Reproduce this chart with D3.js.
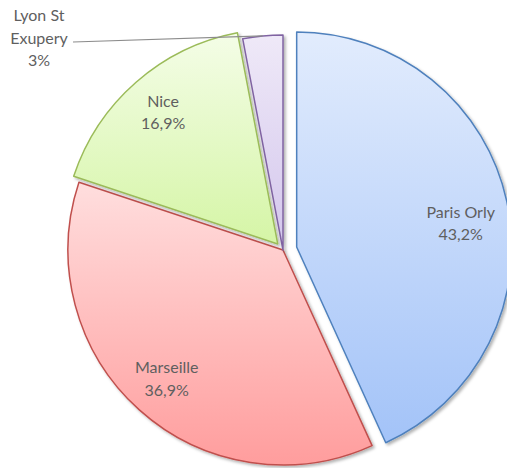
<!DOCTYPE html>
<head>
<meta charset="utf-8">
<script src="https://d3js.org/d3.v7.min.js"></script>
<style>
  html, body { margin: 0; padding: 0; background: #fff; }
  svg { display: block; }
  .lbl { font-family: Lato, "Open Sans", sans-serif; font-size: 16px; fill: #5f5f5f; }
</style>
</head>
<body>
<svg id="chart" width="507" height="468"></svg>
<script>
// data
var airports = ["Paris Orly", "Marseille", "Nice", "Lyon St Exupery"];
var shares = [43.2, 36.9, 16.9, 3.0];
var labelLines = [["Paris Orly", "43,2%"], ["Marseille", "36,9%"], ["Nice", "16,9%"], ["Lyon St", "Exupery", "3%"]];
var explode = [14, 0, 8, 0];

var strokes = ["#4f81bd", "#c0504d", "#9bbb59", "#8064a2"];
var topCol = ["#e2ecfd", "#ffdede", "#f4fde7", "#efe9f8"];
var botCol = ["#a3c3f8", "#ff9d9d", "#d5f5a6", "#d3c6ec"];

var svg = d3.select("#chart"),
    cx = 283, cy = 250, r = 215;

var defs = svg.append("defs");
defs.append("filter").attr("id", "shadow")
    .attr("x", "-10%").attr("y", "-10%").attr("width", "130%").attr("height", "130%")
  .append("feDropShadow")
    .attr("dx", 2).attr("dy", 2).attr("stdDeviation", 1.6)
    .attr("flood-color", "#000").attr("flood-opacity", 0.3);

airports.forEach(function(a, i) {
  var g = defs.append("linearGradient").attr("id", "grad" + i)
      .attr("x1", 0).attr("y1", 0).attr("x2", 0).attr("y2", 1);
  g.append("stop").attr("offset", "0%").attr("stop-color", topCol[i]);
  g.append("stop").attr("offset", "100%").attr("stop-color", botCol[i]);
});

var pie = d3.pie().sort(null).value(function(d) { return d; });
var arcs = pie(shares);

var arc = d3.arc().innerRadius(0).outerRadius(r);
var labelArc = d3.arc().innerRadius(174).outerRadius(174);

function offset(d, i) {
  var m = (d.startAngle + d.endAngle) / 2;
  return [explode[i] * Math.sin(m), -explode[i] * Math.cos(m)];
}

var root = svg.append("g").attr("transform", "translate(" + cx + "," + cy + ")");

root.selectAll("path.slice")
  .data(arcs)
  .enter().append("path")
    .attr("class", "slice")
    .attr("transform", function(d, i) { var o = offset(d, i); return "translate(" + o[0] + "," + o[1] + ")"; })
    .attr("d", arc)
    .attr("fill", function(d, i) { return "url(#grad" + i + ")"; })
    .attr("stroke", function(d, i) { return strokes[i]; })
    .attr("stroke-width", 1.5)
    .attr("stroke-linejoin", "round")
    .attr("filter", "url(#shadow)");

// inside labels (the big slice's label sits a bit lower, as Excel placed it)
var lineH = 22.5;
arcs.forEach(function(d, i) {
  if (i === 3) return;
  var o = offset(d, i), c = labelArc.centroid(d);
  var x = c[0] + o[0] + (i === 0 ? -6 : 0),
      y = c[1] + o[1] - lineH / 2 + 5 + (i === 0 ? 14 : 0);
  var t = root.append("text").attr("class", "lbl").attr("text-anchor", "middle")
      .attr("x", x).attr("y", y);
  labelLines[i].forEach(function(s, k) {
    t.append("tspan").attr("x", x).attr("dy", k ? lineH : 0).text(s);
  });
});

// Lyon label outside with leader line
var lyon = arcs[3];
var edge = d3.arc().innerRadius(r).outerRadius(r).centroid(lyon);
var lx = 39 - cx, ly = 15 - cy;
root.append("path")
    .attr("d", "M" + (lx + 34) + "," + (ly + 27) + "L" + edge[0] + "," + edge[1])
    .attr("stroke", "#8c8c8c").attr("stroke-width", 1.2).attr("fill", "none");
var lt = root.append("text").attr("class", "lbl").attr("text-anchor", "middle")
    .attr("x", lx).attr("y", ly + 6);
labelLines[3].forEach(function(s, k) {
  lt.append("tspan").attr("x", lx).attr("dy", k ? lineH : 0).text(s);
});
</script>
</body>
